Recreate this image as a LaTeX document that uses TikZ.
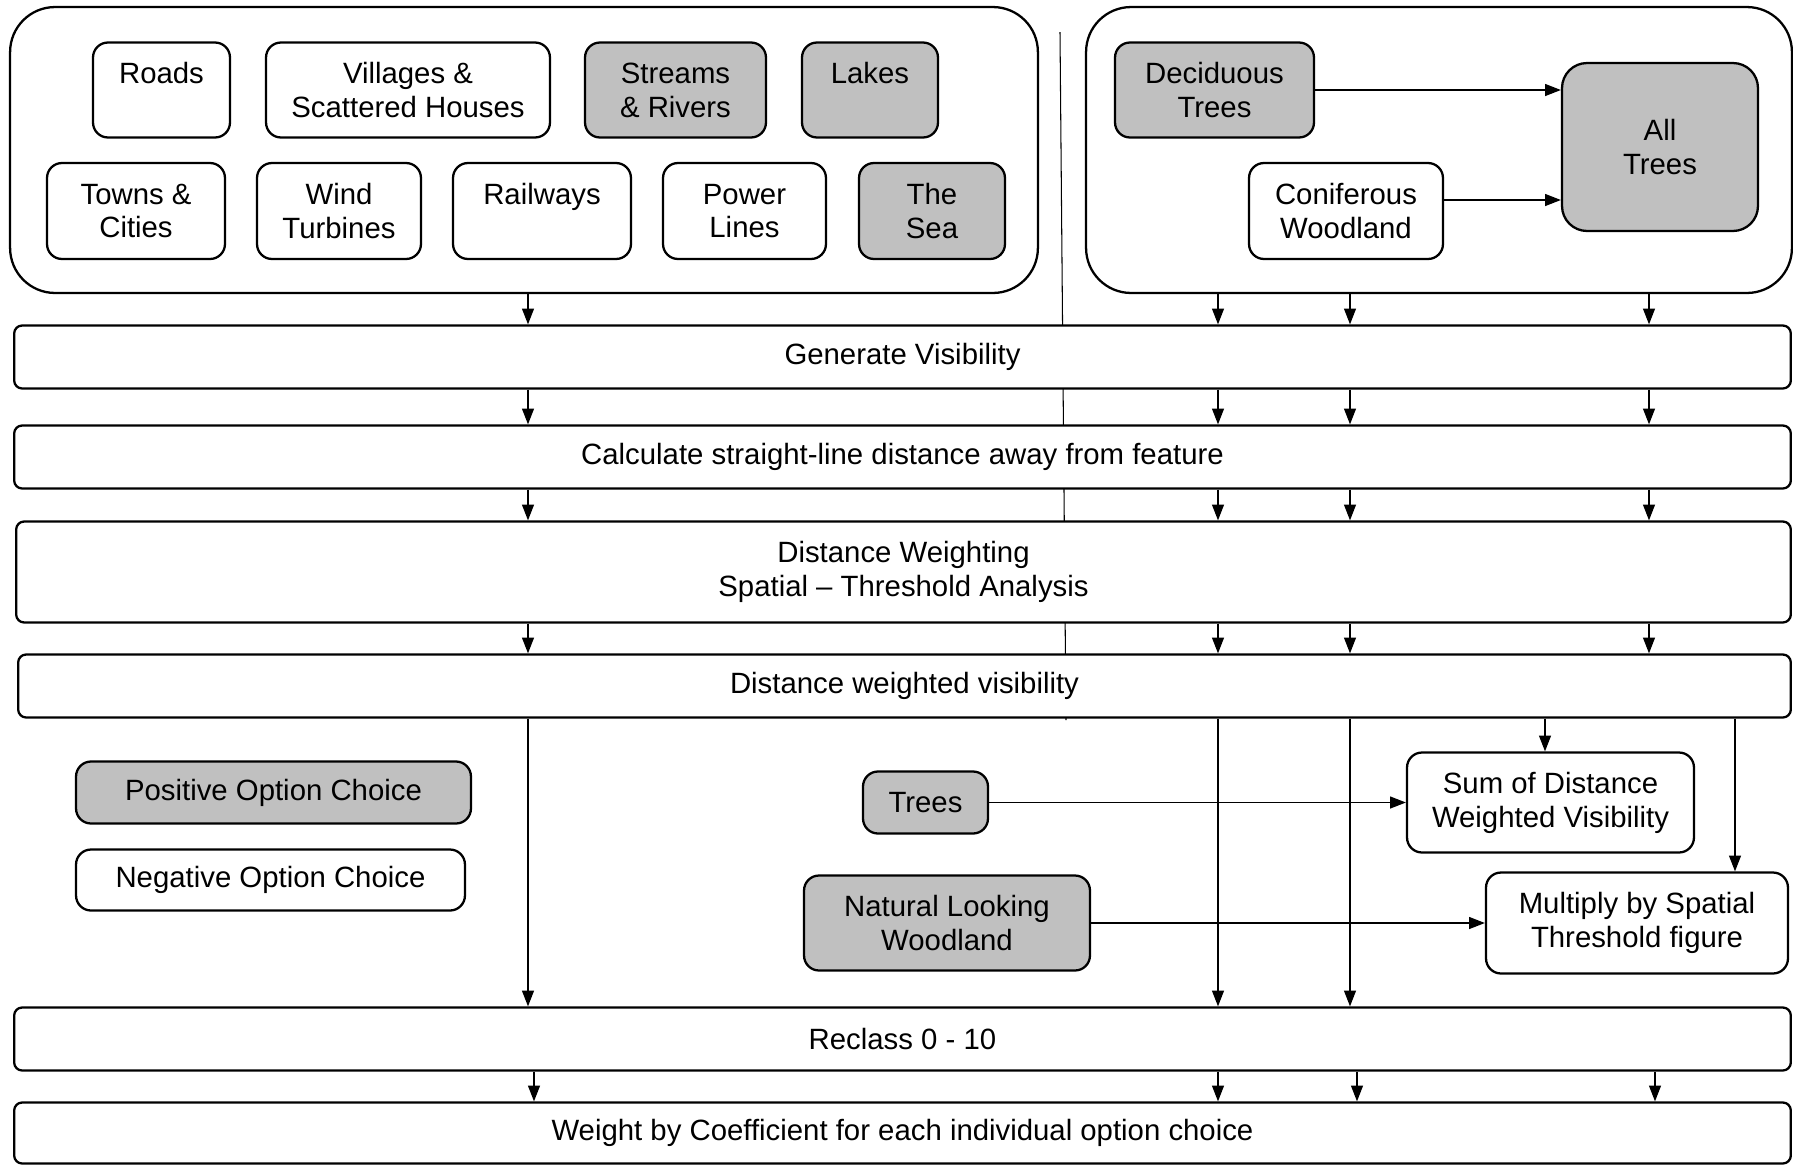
\documentclass[tikz,border=0pt]{standalone}
\usepackage{fontspec}
\setmainfont{Liberation Sans}
\usetikzlibrary{arrows.meta}
\definecolor{optG}{RGB}{192,192,192}
\newcommand{\fs}{\fontsize{16.7}{19.3}\selectfont}
\newcommand{\SW}{35.54cm}
\newcommand{\SH}{1.26cm}

\begin{document}
\begin{tikzpicture}[
    x=0.02cm, y=-0.02cm,
    every node/.style={font=\fs, align=center, inner sep=0pt},
    negbox/.style={draw=black, line width=1.3pt, rounded corners=0.3cm, fill=white},
    posbox/.style={negbox, fill=optG},
    grp/.style={draw=black, line width=1.3pt, rounded corners=0.9cm, fill=white},
    stage/.style={draw=black, line width=1.3pt, rounded corners=0.16cm, fill=white,
                  minimum width=\SW, minimum height=\SH},
    flow/.style={draw=black, line width=0.8pt, -{Triangle[length=9pt, width=6.8pt]}},
  ]
  \useasboundingbox (0,0) rectangle (1793,1164);
  \clip (0,0) rectangle (1793,1164);

  % column positions of the vertical arrows
  \coordinate (colA) at (528,0);
  \coordinate (colB) at (1218,0);
  \coordinate (colC) at (1350,0);
  \coordinate (colD) at (1649,0);
  \coordinate (colE) at (1545,0);
  \coordinate (colF) at (1735,0);
  \coordinate (colA2) at (534,0);
  \coordinate (colC2) at (1357,0);
  \coordinate (colD2) at (1655,0);

  % divider between the two groups, runs behind the stages
  \draw[line width=0.6pt] (1060,32) coordinate (divtop) -- (1066,720) coordinate (divbot);

  %% ================= feature groups =================
  \node[grp, minimum width=20.56cm, minimum height=5.72cm] (grpL) at (524,150) {};
  \node[grp, minimum width=14.12cm, minimum height=5.72cm] (grpR) at (1439,150) {};

  \node[negbox, minimum width=2.74cm, minimum height=1.90cm] (roads)    at (161.5,90) {Roads\\ \mbox{}};
  \node[negbox, minimum width=5.68cm, minimum height=1.90cm] (villages) at (408,90)   {Villages \&\\Scattered Houses};
  \node[posbox, minimum width=3.62cm, minimum height=1.90cm] (streams)  at (675.5,90) {Streams\\\& Rivers};
  \node[posbox, minimum width=2.72cm, minimum height=1.90cm] (lakes)    at (870,90)   {Lakes\\ \mbox{}};

  \node[negbox, minimum width=3.56cm, minimum height=1.92cm] (towns)    at (136,211)    {Towns \&\\Cities};
  \node[negbox, minimum width=3.28cm, minimum height=1.92cm] (wind)     at (339,211)    {Wind\\Turbines};
  \node[negbox, minimum width=3.56cm, minimum height=1.92cm] (railways) at (542,211)    {Railways\\ \mbox{}};
  \node[negbox, minimum width=3.26cm, minimum height=1.92cm] (power)    at (744.5,211)  {Power\\Lines};
  \node[posbox, minimum width=2.92cm, minimum height=1.92cm] (sea)      at (932,211)    {The\\Sea};

  \node[posbox, minimum width=3.98cm, minimum height=1.90cm] (decid)    at (1214.5,90) {Deciduous\\Trees};
  \node[negbox, minimum width=3.88cm, minimum height=1.92cm] (conif)    at (1346,211)  {Coniferous\\Woodland};
  \node[posbox, rounded corners=0.5cm, minimum width=3.92cm, minimum height=3.36cm] (alltrees) at (1660,147) {All\\Trees};

  \draw[flow] (decid.east) -- (decid.east -| alltrees.west);
  \draw[flow] ([yshift=0.22cm]conif.east) -- ([yshift=0.22cm]conif.east -| alltrees.west);

  %% ================= processing stages =================
  \node[stage] (genvis)   at (902.5,357) {Generate Visibility};
  \node[stage] (calcdist) at (902.5,457) {Calculate straight-line distance away from feature};
  \node[stage, minimum width=35.50cm, minimum height=2.02cm] (distwt) at (903.5,572)
    {Distance Weighting\\Spatial -- Threshold Analysis};
  \node[stage, minimum width=35.46cm] (dwv) at (904.5,686) {Distance weighted visibility};
  \node[stage] (reclass)  at (902.5,1039) {Reclass 0 - 10};
  \node[stage, minimum height=1.22cm] (weight) at (902.5,1133)
    {Weight by Coefficient for each individual option choice};

  \draw[flow] (grpL.south -| colA) -- (genvis.north -| colA);
  \foreach \c in {colB,colC,colD}
    \draw[flow] (grpR.south -| \c) -- (genvis.north -| \c);
  \foreach \a/\b in {genvis/calcdist, calcdist/distwt, distwt/dwv} {
    \foreach \c in {colA,colB,colC,colD}
      \draw[flow] (\a.south -| \c) -- (\b.north -| \c);
  }

  %% ================= key and combination boxes =================
  \node[posbox, minimum width=7.90cm, minimum height=1.24cm] (postv) at (273.5,792.5) {Positive Option Choice};
  \node[negbox, minimum width=7.78cm, minimum height=1.22cm] (negtv) at (270.5,880) {Negative Option Choice};

  \node[posbox, minimum width=2.50cm, minimum height=1.24cm] (trees)   at (925.5,802.5) {Trees};
  \node[posbox, minimum width=5.72cm, minimum height=1.90cm] (natural) at (947,923) {Natural Looking\\Woodland};
  \node[negbox, minimum width=5.74cm, minimum height=2.00cm] (sumdwv)  at (1550.5,802.5) {Sum of Distance\\Weighted Visibility};
  \node[negbox, minimum width=6.04cm, minimum height=2.02cm] (mult)    at (1637,923) {Multiply by Spatial\\Threshold figure};

  \draw[flow] (trees.east) -- (sumdwv.west);
  \draw[flow] (natural.east) -- (mult.west);

  \foreach \c in {colA,colB,colC}
    \draw[flow] (dwv.south -| \c) -- (reclass.north -| \c);
  \draw[flow] (dwv.south -| colE) -- (sumdwv.north -| colE);
  \draw[flow] (dwv.south -| colF) -- (mult.north -| colF);

  \foreach \c in {colA2,colB,colC2,colD2}
    \draw[flow] (reclass.south -| \c) -- (weight.north -| \c);

\end{tikzpicture}
\end{document}
